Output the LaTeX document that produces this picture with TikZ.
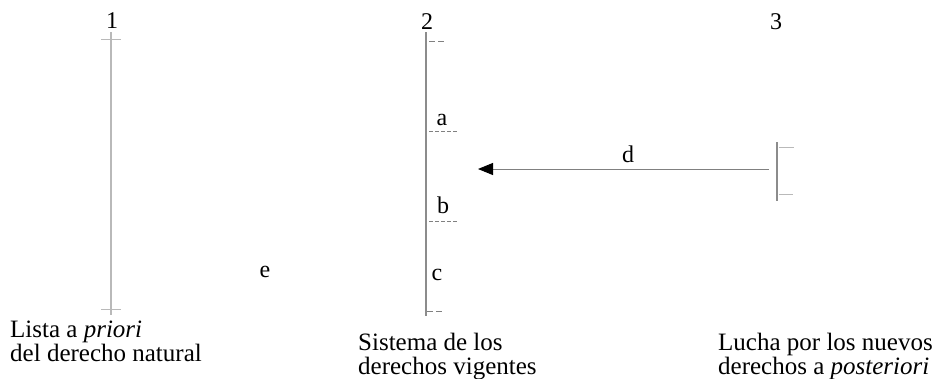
\documentclass[tikz,border=0pt]{standalone}
\usepackage{fontspec}
\setmainfont{Liberation Serif}
\usetikzlibrary{arrows.meta}
\tikzset{
  lbl/.style={inner sep=0pt, font=\fontsize{24}{24}\selectfont},
  axisline/.style={draw=gray!55, line width=1.1pt},
  axisdark/.style={draw=gray!90, line width=1.1pt},
  tick/.style={draw=gray!55, line width=0.9pt},
  dtick/.style={draw=gray, line width=0.9pt, dash pattern=on 4pt off 2pt},
  conn/.style={draw=gray, line width=1pt, -{Triangle[length=15pt,width=12pt,color=black]}},
  caption/.style={inner sep=0pt, anchor=base west, font=\fontsize{25}{25}\selectfont}
}
\begin{document}
\begin{tikzpicture}[x=1pt,y=-1pt]
\useasboundingbox (0,0) rectangle (936,378);
% numbers
\node[lbl, anchor=base] (n1) at (112,28) {1};
\node[lbl, anchor=base] (n2) at (427,29) {2};
\node[lbl, anchor=base] (n3) at (776,29) {3};
% column 1
\coordinate (l1t) at (111,32);
\coordinate (l1b) at (111,315);
\draw[axisline] (l1t) -- (l1b);
\coordinate (t1a) at (101,39); \coordinate (t1b) at (121,39);
\draw[tick] (t1a) -- (t1b);
\coordinate (t1c) at (101,309); \coordinate (t1d) at (121,309);
\draw[tick] (t1c) -- (t1d);
% column 2
\coordinate (l2t) at (426,32);
\coordinate (l2b) at (426,316);
\draw[axisdark] (l2t) -- (l2b);
\coordinate (d0a) at (429,41); \coordinate (d0b) at (445,41);
\draw[dtick, dash pattern=on 6pt off 3pt] (d0a) -- (d0b);
\coordinate (daa) at (429,131); \coordinate (dab) at (457,131);
\draw[dtick] (daa) -- (dab);
\coordinate (dba) at (429,221); \coordinate (dbb) at (457,221);
\draw[dtick] (dba) -- (dbb);
\coordinate (dca) at (427,311); \coordinate (dcb) at (442,311);
\draw[dtick, dash pattern=on 6pt off 3pt] (dca) -- (dcb);
\node[lbl, anchor=base] (la) at (442,125) {a};
\node[lbl, anchor=base] (lb) at (443,213) {b};
\node[lbl, anchor=base] (lc) at (437,280) {c};
\node[lbl, anchor=base] (le) at (265,277) {e};
% column 3
\coordinate (l3t) at (777,142);
\coordinate (l3b) at (777,201);
\draw[axisdark] (l3t) -- (l3b);
\coordinate (t3a) at (779,147); \coordinate (t3b) at (794,147);
\draw[tick] (t3a) -- (t3b);
\coordinate (t3c) at (779,194); \coordinate (t3d) at (793,194);
\draw[tick] (t3c) -- (t3d);
% arrow d
\coordinate (dstart) at (769,169);
\coordinate (dend) at (478,169);
\draw[conn] (dstart) -- (dend);
\node[lbl, anchor=base] (ld) at (628,162) {d};
% captions
\node[caption] (c1a) at (10,337) {Lista a \textit{priori}};
\node[caption] (c1b) at (10,361) {del derecho natural};
\node[caption] (c2a) at (358,350) {Sistema de los};
\node[caption] (c2b) at (358,374) {derechos vigentes};
\node[caption] (c3a) at (718,350) {Lucha por los nuevos};
\node[caption] (c3b) at (718,374) {derechos a \textit{posteriori}};
\end{tikzpicture}
\end{document}
